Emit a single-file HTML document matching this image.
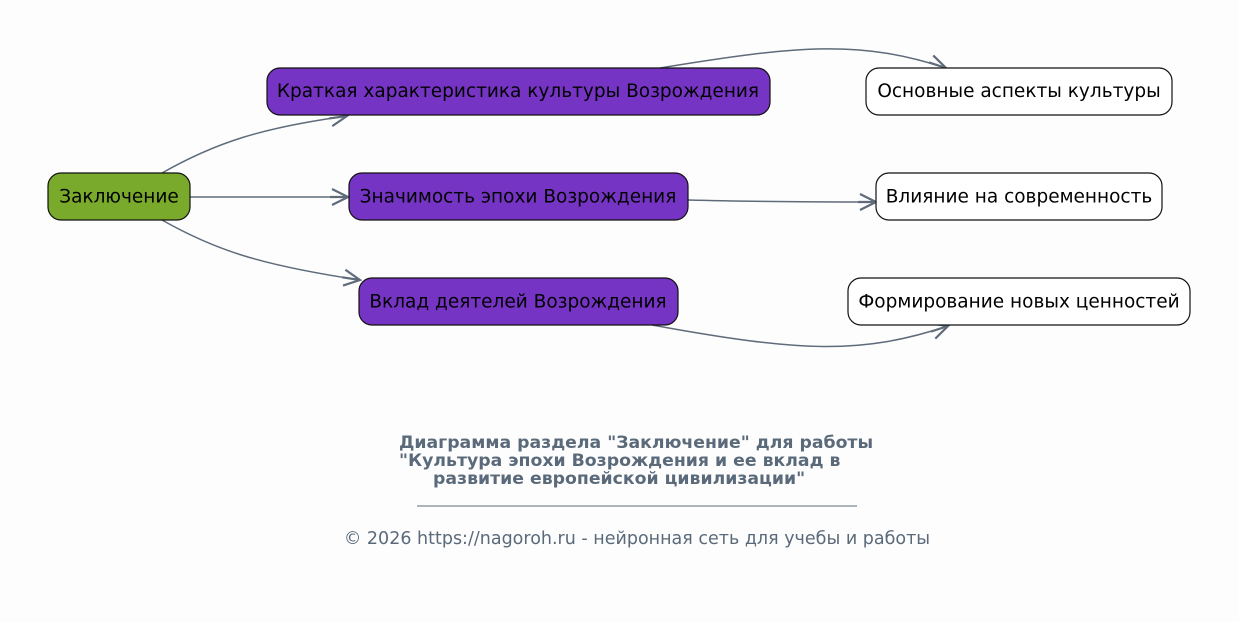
<!DOCTYPE html>
<html><head><meta charset="utf-8"><style>
html,body{margin:0;padding:0;background:#fdfdfd;}
svg{display:block;font-family:"DejaVu Sans","Liberation Sans",sans-serif;}
</style></head><body>
<svg width="1239" height="622" viewBox="0 0 1239 622" xmlns="http://www.w3.org/2000/svg">
<defs>
<marker id="a" viewBox="0 0 20 20" refX="18" refY="10" markerWidth="20" markerHeight="20" markerUnits="userSpaceOnUse" orient="auto">
<path d="M2,2 L18,10 L2,18 M18,10 L0,10" fill="none" stroke="#5f6b7a" stroke-width="2.2"/>
</marker>
</defs>
<g fill="none" stroke="#5f6b7a" stroke-width="1.5" marker-end="url(#a)">
<path d="M162,173 C215,143 260,128 347,116"/>
<path d="M190,197 L348,197"/>
<path d="M162,220 C215,250 260,265 360,280"/>
<path d="M660,68 C800,45 860,40 946,68"/>
<path d="M688,200 C760,202 820,202 876,202"/>
<path d="M652,325 C800,352 860,355 948,326"/>
</g>
<g stroke="#111" stroke-width="1.2">
<rect x="48" y="173" width="142" height="47" rx="13" fill="#7aaa2b"/>
<rect x="267" y="68" width="503" height="47" rx="13" fill="#7634c4"/>
<rect x="349" y="173" width="339" height="47" rx="13" fill="#7634c4"/>
<rect x="359" y="278" width="319" height="47" rx="13" fill="#7634c4"/>
<rect x="866" y="68" width="306" height="47" rx="13" fill="#fff"/>
<rect x="876" y="173" width="286" height="47" rx="13" fill="#fff"/>
<rect x="848" y="278" width="342" height="47" rx="13" fill="#fff"/>
</g>
<g font-size="18.5" fill="#000" text-anchor="middle">
<text x="119" y="202.5">Заключение</text>
<text x="518" y="97">Краткая характеристика культуры Возрождения</text>
<text x="518" y="202.5">Значимость эпохи Возрождения</text>
<text x="518" y="307.5">Вклад деятелей Возрождения</text>
<text x="1019" y="97">Основные аспекты культуры</text>
<text x="1019" y="202.5">Влияние на современность</text>
<text x="1019" y="307.5">Формирование новых ценностей</text>
</g>
<g font-size="17.3" font-weight="bold" fill="#5a6a7a">
<text x="399" y="448">Диаграмма раздела "Заключение" для работы</text>
<text x="399" y="466">"Культура эпохи Возрождения и ее вклад в</text>
<text x="433" y="484">развитие европейской цивилизации"</text>
</g>
<line x1="417" y1="506" x2="857" y2="506" stroke="#5a6a7a" stroke-width="1"/>
<text x="637" y="544" font-size="17.5" fill="#5a6a7a" text-anchor="middle">© 2026 https://nagoroh.ru - нейронная сеть для учебы и работы</text>
</svg>
</body></html>
